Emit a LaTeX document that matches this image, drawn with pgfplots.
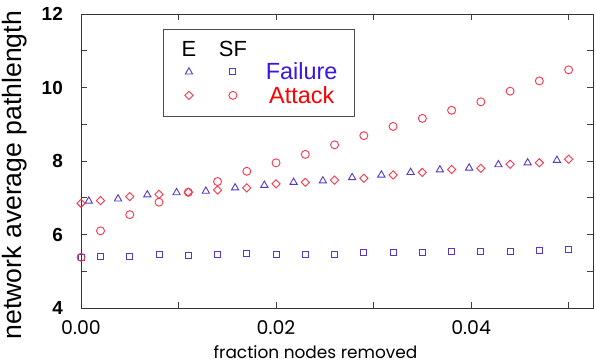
\documentclass[border=0pt]{standalone}
\usepackage{fontspec}
\setmainfont{Liberation Sans}
\newfontfamily\poppins{Poppins}
\usepackage{pgfplots}
\pgfplotsset{compat=1.18}
\definecolor{fblue}{RGB}{85,55,205}
\definecolor{ftext}{RGB}{60,20,230}
\definecolor{ared}{RGB}{255,50,75}
\definecolor{atext}{RGB}{255,0,0}
\pgfplotsset{
  legA/.style={legend image code/.code={\path[draw=none,fill=none] (0bp,-7bp) rectangle (19bp,7bp); \draw[##1] plot coordinates {(9bp,0bp)};}},
  legB/.style={legend image code/.code={\path[draw=none,fill=none] (0bp,-7bp) rectangle (66bp,7bp); \draw[##1] plot coordinates {(33bp,0bp)};}},
}
\begin{document}
\begin{tikzpicture}
\path[use as bounding box] (-81bp,-55bp) rectangle (515bp,308bp);
\begin{axis}[
  at={(0,0)}, anchor=south west,
  scale only axis, width=512bp, height=294bp,
  xmin=0, xmax=0.0525, ymin=4, ymax=12,
  scaled x ticks=false, scaled y ticks=false,
  xtick={0,0.02,0.04}, xticklabels={0.00,0.02,0.04},
  minor xtick={0.01,0.03,0.05},
  ytick={4,6,8,10,12}, yticklabels={\textbf{4},\textbf{6},\textbf{8},\textbf{10},\textbf{12}},
  minor ytick={5,7,9,11},
  tick align=inside, major tick length=6bp, minor tick length=6bp,
  tick style={black!75, line width=0.8bp},
  axis line style={black!80, line width=0.9bp},
  /pgf/number format/assume math mode=true,
  yticklabel style={font=\bfseries\fontsize{19}{19}\selectfont, anchor=east, inner sep=0pt, xshift=-18bp},
  xticklabel style={font=\poppins\fontsize{19}{19}\selectfont, anchor=center, inner sep=0pt, yshift=-19.5bp},
  xlabel={fraction nodes removed},
  ylabel={network average pathlength},
  xlabel style={font=\poppins\fontsize{17}{17}\selectfont, at={(axis description cs:0.458,-0.150)}, anchor=center, inner sep=0pt},
  ylabel style={font=\fontsize{26.7}{26.7}\selectfont, at={(axis description cs:-0.129,0.452)}, anchor=center, inner sep=0pt},
  legend columns=2,
  legend style={at={(axis description cs:0.1602,0.949)}, anchor=north west,
    draw=black!70, line width=0.8bp, inner xsep=16.5bp, inner ysep=11.5bp,
    row sep=5bp, column sep=0pt, nodes={inner sep=0pt}, cells={anchor=center},
    font=\fontsize{23.5}{23.5}\selectfont},
]
% legend header images
\addlegendimage{legend image code/.code={\path[draw=none,fill=none] (0bp,-7bp) rectangle (19bp,7bp); \node[inner sep=0pt, font=\fontsize{22}{22}\selectfont, text=black] at (9bp,0bp) {E};}}
\addlegendentry{}
\addlegendimage{legend image code/.code={\path[draw=none,fill=none] (0bp,-7bp) rectangle (66bp,7bp); \node[inner sep=0pt, font=\fontsize{22}{22}\selectfont, text=black] at (33bp,0bp) {SF};}}
\addlegendentry{}
% E failure (triangles)
\addplot[only marks, mark=triangle, mark size=4.2bp, fblue, line width=0.9bp, legA]
coordinates {
(0.0008,6.91)(0.0038,6.97)(0.0068,7.08)(0.0098,7.14)(0.0128,7.18)(0.0158,7.27)
(0.0188,7.34)(0.0218,7.42)(0.0248,7.46)(0.0278,7.55)(0.0308,7.62)(0.0338,7.69)
(0.0368,7.76)(0.0398,7.81)(0.0428,7.90)(0.0458,7.95)(0.0488,8.02)};
\addlegendentry{}
% SF failure (squares)
\addplot[only marks, mark=square, mark size=3bp, fblue, line width=0.9bp, legB]
coordinates {
(0,5.38)(0.002,5.40)(0.005,5.41)(0.008,5.45)(0.011,5.43)(0.014,5.45)
(0.017,5.48)(0.020,5.46)(0.023,5.46)(0.026,5.47)(0.029,5.50)(0.032,5.50)
(0.035,5.52)(0.038,5.54)(0.041,5.55)(0.044,5.55)(0.047,5.56)(0.050,5.58)};
\addlegendentry{\textcolor{ftext}{Failure}}
% E attack (diamonds)
\addplot[only marks, mark=square, mark size=2.9bp, mark options={rotate=45}, ared, line width=0.9bp, legA]
coordinates {
(0,6.85)(0.002,6.92)(0.005,7.03)(0.008,7.09)(0.011,7.15)(0.014,7.21)
(0.017,7.27)(0.020,7.38)(0.023,7.42)(0.026,7.48)(0.029,7.53)(0.032,7.62)
(0.035,7.69)(0.038,7.77)(0.041,7.80)(0.044,7.91)(0.047,7.95)(0.050,8.05)};
\addlegendentry{}
% SF attack (circles)
\addplot[only marks, mark=o, mark size=4bp, ared, line width=0.9bp, legB]
coordinates {
(0,5.38)(0.002,6.10)(0.005,6.54)(0.008,6.88)(0.011,7.15)(0.014,7.44)
(0.017,7.72)(0.020,7.95)(0.023,8.18)(0.026,8.44)(0.029,8.69)(0.032,8.94)
(0.035,9.16)(0.038,9.38)(0.041,9.61)(0.044,9.90)(0.047,10.18)(0.050,10.48)};
\addlegendentry{\textcolor{atext}{Attack}}
\end{axis}
\end{tikzpicture}
\end{document}
